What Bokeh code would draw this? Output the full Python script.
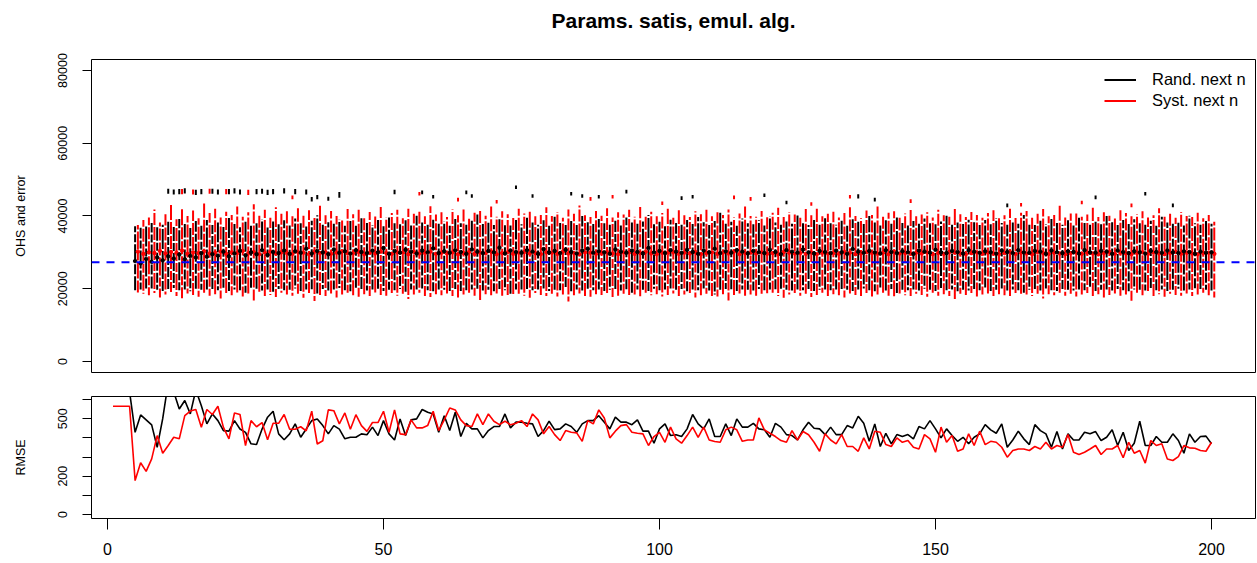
from bokeh.plotting import figure
from bokeh.layouts import column
from bokeh.models import (ColumnDataSource, Span, Legend, LegendItem, FixedTicker, Range1d,
                          Label)
from bokeh.embed import file_html
from bokeh.resources import INLINE

FONT = "Liberation Sans"

# ---------------- top panel data (values in thousands) ----------------
iter_n = list(range(5, 201))

rand_lo = [
    19.6, 19.8, 19.5, 20.1, 19.7, 19.4, 19.9, 20.2, 19.6, 19.8, 19.3, 20.0, 19.7, 19.5,
    19.9, 19.6, 20.3, 19.4, 19.8, 19.6, 18.9, 19.7, 20.0, 19.5, 19.8, 19.2, 19.9, 19.6,
    19.7, 20.1, 19.4, 19.8, 19.6, 18.7, 19.9, 19.5, 19.8, 20.2, 19.6, 19.3, 19.7, 19.9,
    19.5, 19.8, 20.0, 19.4, 19.7, 19.6, 19.9, 19.2, 19.8, 19.5, 20.1, 19.6, 19.3, 19.8,
    19.7, 19.4, 19.9, 18.8, 19.6, 19.8, 20.0, 19.5, 19.7, 19.3, 19.9, 19.6, 18.6, 19.8,
    19.5, 19.9, 19.6, 19.8, 20.1, 19.4, 19.7, 19.6, 19.9, 19.3, 19.8, 19.5, 20.0, 19.6,
    19.8, 19.4, 19.7, 19.9, 19.5, 19.6, 18.9, 19.8, 19.7, 19.4, 20.0, 19.6, 19.8, 19.5,
    19.7, 19.9, 19.3, 19.8, 19.6, 20.1, 19.5, 18.4, 19.7, 19.9, 19.6, 19.4, 19.8, 19.7,
    19.5, 19.9, 19.6, 19.8, 19.3, 20.0, 19.7, 19.5, 19.8, 19.6, 19.9, 19.4, 19.7, 19.8,
    19.6, 19.5, 19.9, 19.7, 19.4, 19.8, 20.1, 19.6, 19.3, 19.8, 19.5, 19.9, 18.8, 19.7,
    19.6, 19.8, 19.5, 20.0, 19.7, 19.4, 19.9, 19.6, 19.8, 19.3, 19.7, 19.5, 19.9, 19.6,
    19.8, 19.4, 19.7, 20.1, 19.5, 19.8, 19.6, 18.9, 19.7, 19.9, 19.5, 19.8, 19.6, 19.4,
    19.9, 19.7, 19.5, 19.8, 19.6, 20.0, 19.4, 19.7, 19.8, 19.5, 19.9, 19.6, 19.3, 19.8,
    19.7, 19.5, 19.9, 19.6, 19.8, 19.4, 19.7, 20.0, 19.5, 19.8, 19.6, 19.9, 19.7, 19.5,
]
rand_hi = [
    37.2, 36.8, 37.5, 38.1, 36.9, 37.6, 38.4, 37.0, 39.2, 37.8, 36.7, 38.6, 37.3, 38.9,
    37.5, 38.2, 37.0, 39.5, 37.8, 36.9, 38.4, 37.6, 38.0, 39.1, 37.2, 38.5, 37.7, 38.8,
    37.4, 39.3, 38.0, 37.1, 38.7, 40.2, 37.6, 38.3, 37.9, 39.0, 37.3, 38.6, 37.8, 39.4,
    38.1, 37.5, 38.9, 37.2, 39.6, 38.0, 37.7, 38.8, 37.4, 40.1, 38.2, 37.6, 39.0, 37.9,
    38.5, 37.3, 39.2, 38.0, 37.6, 38.7, 40.4, 37.8, 38.3, 37.5, 39.1, 38.0, 37.4, 38.9,
    37.7, 39.5, 38.2, 37.6, 38.8, 37.3, 39.8, 38.1, 37.9, 38.6, 37.5, 40.0, 38.3, 37.8,
    39.2, 38.0, 37.6, 38.7, 37.4, 39.6, 38.2, 37.9, 38.5, 40.3, 37.7, 38.4, 37.2, 39.0,
    38.1, 37.6, 38.9, 37.8, 39.7, 38.3, 37.5, 38.6, 41.0, 37.9, 38.4, 37.3, 39.3, 38.0,
    37.7, 38.8, 37.4, 39.9, 38.2, 37.6, 38.5, 37.9, 40.2, 38.1, 37.5, 38.9, 37.8, 39.4,
    38.0, 37.6, 38.7, 37.3, 39.1, 38.4, 37.8, 40.0, 38.2, 37.5, 38.8, 37.9, 39.6, 38.1,
    37.4, 38.6, 37.9, 39.3, 38.0, 37.7, 38.5, 40.1, 37.6, 38.2, 37.8, 39.0, 38.3, 37.5,
    38.9, 37.7, 39.4, 38.1, 37.6, 38.6, 37.9, 40.3, 38.0, 37.5, 38.7, 37.8, 39.2, 38.2,
    37.6, 38.8, 37.4, 39.5, 38.1, 37.9, 38.4, 37.7, 40.0, 38.3, 37.5, 38.9, 37.8, 39.1,
    38.0, 37.6, 38.7, 37.3, 39.8, 38.2, 37.9, 38.5, 37.4, 40.1, 38.0, 37.6, 38.6, 37.9,
]
rand_mid = [
    27.6, 27.0, 28.2, 27.4, 28.6, 27.8, 28.9, 28.3, 29.4, 28.1, 29.0, 28.6, 29.8, 28.8,
    29.5, 29.1, 30.2, 28.9, 29.7, 30.4, 29.2, 30.0, 29.5, 30.6, 29.3, 30.1, 29.8, 30.5,
    29.6, 30.3, 29.9, 31.0, 29.7, 30.4, 30.0, 29.5, 30.8, 29.9, 30.3, 29.7, 30.6, 30.1,
    29.8, 30.5, 30.0, 31.2, 29.6, 30.4, 29.9, 30.7, 30.2, 29.7, 30.5, 30.0, 31.1, 29.8,
    30.3, 29.9, 30.6, 30.1, 29.6, 30.8, 30.2, 29.8, 30.4, 30.0, 31.3, 29.7, 30.5, 30.1,
    29.9, 30.6, 30.2, 29.6, 30.9, 30.0, 30.4, 29.8, 30.7, 30.1, 29.7, 30.5, 31.0, 29.9,
    30.3, 30.0, 29.6, 30.8, 30.2, 29.9, 30.5, 30.1, 29.7, 31.2, 30.0, 30.4, 29.8, 30.6,
    30.2, 29.9, 30.7, 30.1, 29.6, 30.5, 30.0, 31.0, 29.8, 30.3, 29.9, 30.6, 30.2, 29.7,
    30.4, 30.0, 29.8, 30.7, 30.1, 29.5, 30.6, 30.2, 29.9, 30.8, 30.0, 29.7, 30.4, 30.1,
    29.8, 30.5, 30.0, 29.6, 30.9, 30.2, 29.9, 30.4, 30.0, 29.7, 30.6, 30.1, 29.8, 30.3,
    30.0, 29.6, 30.5, 30.2, 29.9, 30.7, 30.0, 29.8, 30.4, 30.1, 29.7, 30.6, 30.2, 29.9,
    30.3, 30.0, 29.7, 30.5, 30.1, 29.8, 30.6, 30.0, 29.9, 30.4, 30.2, 29.6, 30.5, 30.0,
    29.8, 30.3, 30.1, 29.7, 30.6, 30.0, 29.9, 30.4, 30.2, 29.6, 30.5, 30.1, 29.8, 30.3,
    30.0, 29.7, 30.4, 30.1, 29.9, 30.5, 30.0, 29.8, 30.3, 30.1, 29.6, 30.2, 29.9, 30.0,
]
syst_lo = [
    19.0, 18.6, 18.2, 18.8, 17.6, 18.4, 19.1, 18.0, 17.4, 18.7, 18.3, 17.8, 18.9, 18.1,
    18.5, 17.3, 18.8, 18.2, 19.0, 17.9, 18.4, 16.8, 18.6, 18.0, 18.3, 17.7, 18.9, 18.4,
    18.1, 18.6, 17.5, 18.8, 16.6, 18.3, 18.0, 18.7, 17.6, 18.4, 18.9, 18.2, 17.8, 18.5,
    18.0, 18.7, 18.3, 17.5, 18.8, 18.1, 18.6, 17.2, 18.4, 18.9, 18.0, 17.7, 18.5, 18.2,
    18.7, 18.0, 17.6, 18.4, 18.9, 18.1, 16.9, 18.5, 18.2, 18.7, 17.8, 18.3, 18.0, 18.6,
    18.1, 17.5, 18.8, 18.3, 18.0, 18.6, 17.9, 18.4, 16.5, 18.2, 18.7, 18.0, 17.8, 18.5,
    18.3, 18.8, 17.7, 18.1, 18.6, 18.0, 18.4, 17.4, 18.9, 18.2, 18.5, 17.9, 18.3, 18.7,
    18.0, 18.4, 18.8, 17.6, 18.2, 18.6, 18.0, 17.9, 18.5, 16.8, 18.3, 18.7, 18.1, 18.4,
    17.8, 18.6, 18.2, 18.9, 18.0, 17.5, 18.4, 18.8, 18.1, 18.6, 17.7, 18.3, 18.9, 18.0,
    18.5, 18.2, 17.6, 18.7, 18.3, 18.0, 18.8, 17.9, 18.4, 18.6, 18.1, 17.4, 18.7, 18.2,
    18.0, 18.6, 18.3, 17.8, 18.9, 18.1, 18.5, 18.0, 17.2, 18.6, 18.3, 18.8, 17.9, 18.4,
    18.7, 18.0, 18.5, 18.2, 17.7, 18.8, 18.1, 18.4, 18.0, 18.6, 17.3, 18.5, 18.2, 18.9,
    18.1, 18.6, 17.9, 18.4, 18.8, 18.0, 18.5, 17.6, 18.3, 18.7, 18.1, 18.4, 16.7, 18.6,
    18.2, 18.8, 18.0, 18.5, 17.8, 18.6, 18.3, 18.1, 18.7, 18.0, 18.4, 18.9, 18.2, 17.6,
]
syst_hi = [
    37.5, 38.9, 39.6, 41.8, 38.2, 40.5, 43.0, 39.1, 42.2, 40.0, 41.5, 39.4, 43.4, 40.8,
    42.0, 39.6, 41.2, 40.3, 42.6, 39.8, 41.0, 43.2, 40.1, 41.7, 39.5, 42.4, 40.6, 41.3,
    39.9, 42.1, 40.4, 41.6, 39.7, 42.8, 40.2, 41.4, 40.0, 39.3, 41.9, 40.5, 42.3, 39.8,
    41.1, 40.3, 42.5, 39.6, 40.8, 41.7, 39.4, 42.0, 40.6, 41.2, 39.9, 42.7, 40.4, 41.0,
    39.7, 41.8, 40.2, 42.2, 39.5, 40.9, 41.4, 40.1, 42.6, 39.8, 41.3, 40.5, 39.6, 42.0,
    40.7, 41.5, 39.9, 40.3, 42.4, 40.0, 41.1, 39.5, 41.8, 40.6, 42.9, 40.2, 39.7, 41.4,
    40.1, 42.1, 39.6, 41.0, 40.4, 41.7, 39.8, 42.5, 40.3, 41.2, 39.9, 40.8, 42.0, 39.5,
    41.6, 40.2, 39.7, 41.3, 40.5, 42.2, 39.9, 41.0, 40.3, 41.8, 39.6, 40.7, 42.6, 40.0,
    39.8, 41.4, 40.1, 40.9, 42.3, 39.7, 41.1, 40.4, 39.5, 41.9, 40.2, 42.0, 39.9, 40.6,
    41.2, 39.6, 40.8, 42.4, 40.0, 39.4, 41.5, 40.3, 42.7, 39.8, 40.9, 41.3, 39.5, 40.7,
    42.1, 39.9, 40.4, 41.0, 39.6, 41.7, 40.2, 39.8, 42.5, 40.5, 39.7, 41.1, 40.3, 39.5,
    40.8, 41.6, 39.8, 40.2, 42.0, 39.7, 40.9, 41.4, 39.5, 40.6, 41.9, 39.9, 40.3, 42.8,
    39.6, 40.7, 41.2, 39.8, 40.4, 42.3, 39.7, 41.0, 40.1, 39.5, 41.6, 40.8, 39.9, 40.5,
    41.3, 39.6, 40.2, 42.1, 39.8, 40.6, 39.5, 41.1, 40.0, 39.7, 40.9, 39.4, 40.3, 38.4,
]
syst_mid = [
    30.2, 29.6, 30.0, 29.8, 30.4, 29.7, 30.1, 29.9, 30.5, 29.6, 30.0, 29.8, 30.3, 29.7,
    29.9, 30.2, 29.6, 30.0, 29.8, 30.4, 29.7, 30.1, 29.5, 29.9, 30.2, 29.7, 30.0, 29.8,
    29.6, 30.1, 29.9, 29.5, 30.2, 29.8, 30.0, 29.6, 29.9, 30.3, 29.7, 29.8, 30.1, 29.5,
    29.9, 29.7, 30.2, 29.8, 29.6, 30.0, 29.9, 29.5, 30.1, 29.7, 29.8, 30.2, 29.6, 29.9,
    29.7, 30.0, 29.5, 29.8, 30.1, 29.6, 29.9, 29.7, 30.2, 29.5, 29.8, 30.0, 29.6, 29.9,
    30.1, 29.7, 29.8, 29.5, 30.0, 29.9, 29.6, 30.2, 29.7, 29.8, 29.5, 30.0, 29.9, 29.6,
    29.8, 30.1, 29.7, 29.5, 29.9, 30.0, 29.6, 29.8, 30.2, 29.7, 29.5, 29.9, 29.8, 30.0,
    29.6, 29.9, 29.7, 30.1, 29.5, 29.8, 30.0, 29.6, 29.9, 29.7, 30.2, 29.5, 29.8, 29.9,
    29.7, 30.0, 29.6, 29.8, 29.5, 30.1, 29.9, 29.7, 29.8, 29.6, 30.0, 29.5, 29.9, 29.7,
    29.8, 29.6, 30.1, 29.9, 29.5, 29.7, 30.0, 29.8, 29.6, 29.9, 29.5, 30.2, 29.7, 29.8,
    29.6, 29.9, 29.7, 30.0, 29.5, 29.8, 29.6, 30.1, 29.9, 29.7, 29.5, 29.8, 30.0, 29.6,
    29.9, 29.7, 29.5, 29.8, 30.1, 29.6, 29.9, 29.7, 29.5, 30.0, 29.8, 29.6, 29.9, 29.7,
    29.5, 29.8, 30.0, 29.6, 29.9, 29.7, 29.5, 29.8, 30.1, 29.6, 29.9, 29.7, 29.5, 29.8,
    30.0, 29.6, 29.9, 29.7, 29.5, 29.8, 30.1, 29.6, 29.9, 29.7, 29.5, 29.8, 29.9, 29.6,
]

# isolated high error bars
rand_out_n = [11, 12, 13, 14, 16, 17, 19, 20, 22, 23, 24, 27, 28, 29, 30, 32, 34, 36,
              37, 38, 40, 42,
              52, 57, 59, 65, 66, 74, 77, 84, 86, 89, 94, 104, 106, 119, 123, 136, 139,
              163, 179, 188, 193]
rand_out_lo = [46.1, 45.9, 46.0, 46.2, 45.8, 46.0, 46.1, 45.9, 46.0, 46.2, 45.9, 46.0,
               46.1, 45.8, 46.0, 46.2, 46.0, 45.9,
               44.0, 44.6, 44.2, 45.0,
               46.0, 46.0, 44.8, 46.0, 45.0, 47.4, 45.0, 45.6, 45.0, 44.8, 46.2, 44.4,
               44.8, 45.2, 43.2, 44.8, 44.0, 42.4, 44.6, 45.6, 42.4]
rand_out_hi = [47.5, 47.3, 47.4, 47.6, 47.2, 47.4, 47.5, 47.3, 47.4, 47.6, 47.3, 47.4,
               47.5, 47.2, 47.4, 47.6, 47.4, 47.3,
               45.2, 45.8, 45.3, 46.6,
               47.2, 47.0, 45.8, 47.0, 46.0, 48.4, 46.0, 46.6, 46.0, 45.8, 47.2, 45.4,
               45.8, 46.2, 44.2, 46.0, 45.0, 43.4, 45.6, 46.6, 43.4]
syst_out_n = [13, 15, 18, 21, 25,
              33, 56, 63, 70, 87, 91, 100, 113, 116, 127, 134, 145, 165, 176, 185]
syst_out_lo = [46.0, 45.9, 46.1, 46.0, 45.8,
               44.6, 45.6, 44.0, 43.4, 44.2, 44.8, 43.0, 44.6, 44.2, 42.8, 44.8, 43.6,
               42.6, 43.2, 42.4]
syst_out_hi = [47.4, 47.3, 47.5, 47.4, 47.2,
               45.6, 46.6, 45.0, 44.4, 45.2, 45.8, 44.0, 45.6, 45.2, 43.8, 45.8, 44.6,
               43.6, 44.2, 43.4]

true_ohs = 27300

# ---------------- bottom panel data ----------------
rmse_rand_n = list(range(4, 201))
rmse_rand = [
    640, 429, 520, 494, 468, 351, 500, 690, 640, 551, 595, 525, 650, 568, 473, 525,
    490, 438, 435, 490, 446, 429, 369, 365, 446, 508, 539, 421, 390, 421, 473, 403,
    446, 490, 499, 464, 421, 464, 446, 395, 403, 403, 421, 416, 456, 412,
    490, 421, 389, 499, 412, 494, 499, 548, 534, 525,
    429, 516, 438, 534, 407, 476, 447, 447, 400, 438,
    459, 459, 525, 452, 482, 482, 476, 473, 407, 438,
    487, 443, 447, 473, 459, 429, 473, 490, 490, 516,
    482, 447, 508, 482, 482, 469, 494, 435, 435, 372,
    447, 473, 412, 416, 407, 447, 522, 473, 447, 499,
    407, 407, 473, 412, 499, 456, 456, 476, 447, 442,
    403, 476, 456, 417, 412, 389, 442, 482, 450,
    447, 417, 456, 417, 417, 464, 452, 513, 476, 382,
    473, 355, 424, 369, 417, 407, 417, 395, 459, 447,
    490, 447, 400, 447, 412, 382, 403, 369, 403, 421,
    469, 442, 424, 473, 351, 389, 435, 395, 365, 469,
    438, 421, 351, 433, 342, 421, 389, 389, 429, 421,
    433, 386, 403, 442, 360, 429, 334, 372, 487, 360,
    360, 407, 377, 377, 421, 386, 320, 421, 377, 407,
    409, 369,
]
rmse_syst_n = list(range(1, 201))
rmse_syst = [
    565, 565, 565, 565, 177, 270, 225, 290, 412, 320, 360, 403, 395, 516,
    540, 548, 455, 548, 522, 565, 455, 395, 530, 522,
    360, 490, 458, 480, 390, 476, 476, 522, 445, 445,
    458, 437, 539, 368, 385, 546, 542, 473, 530, 445,
    521, 464, 434, 480, 480,
    539, 429, 546, 421, 417, 494, 452, 452, 464, 539,
    438, 494, 556, 546, 494, 464, 459, 525, 469, 525,
    487, 469, 487, 468, 476, 490, 459, 525, 494, 421,
    459, 417, 386, 438, 429, 426, 382, 490, 473, 546,
    504, 400, 435, 464, 469, 429, 424, 421, 360, 407,
    429, 377, 456, 395, 372, 412, 456, 403, 456, 389,
    381, 377, 442, 456, 442, 382, 389, 389, 504, 442,
    424, 407, 386, 377, 438, 389, 433, 416, 377,
    330, 421, 389, 369, 417, 355, 355, 330, 400, 342,
    435, 429, 365, 355, 400, 377, 386, 351, 342, 417,
    395, 325, 456, 377, 412, 330, 342, 421, 360, 435,
    365, 382, 377, 351, 299, 334, 342, 342, 334, 355,
    342, 377, 342, 360, 351, 417, 325, 313, 325, 342,
    360, 313, 342, 342, 360, 296, 377, 320, 334, 268,
    386, 360, 369, 290, 282, 302, 360, 348, 346, 334,
    330, 377,
]

for arr in (rand_lo, rand_hi, rand_mid, syst_lo, syst_hi, syst_mid):
    assert len(arr) == len(iter_n), len(arr)
assert len(rand_out_n) == len(rand_out_lo) == len(rand_out_hi)
assert len(syst_out_n) == len(syst_out_lo) == len(syst_out_hi)
assert len(rmse_rand) == len(rmse_rand_n), len(rmse_rand)
assert len(rmse_syst) == len(rmse_syst_n), len(rmse_syst)

K = 1000.0
rand_src = ColumnDataSource(dict(
    x=iter_n, lo=[v * K for v in rand_lo], hi=[v * K for v in rand_hi],
    mid=[v * K for v in rand_mid],
    doff=[(i * 7) % 19 for i in range(len(iter_n))]))
syst_src = ColumnDataSource(dict(
    x=[n + 0.5 for n in iter_n], lo=[v * K for v in syst_lo],
    hi=[v * K for v in syst_hi], mid=[v * K for v in syst_mid],
    doff=[(i * 11) % 23 for i in range(len(iter_n))]))
rand_out_src = ColumnDataSource(dict(
    x=rand_out_n, lo=[v * K for v in rand_out_lo], hi=[v * K for v in rand_out_hi]))
syst_out_src = ColumnDataSource(dict(
    x=[n + 0.5 for n in syst_out_n], lo=[v * K for v in syst_out_lo],
    hi=[v * K for v in syst_out_hi]))

W = 1257
BORDER_L, BORDER_R = 91, 2
x_range = Range1d(-2.9, 207.97)


def style(p):
    p.outline_line_color = "black"
    p.outline_line_width = 1
    p.outline_line_alpha = 1
    p.xgrid.visible = False
    p.ygrid.visible = False
    p.background_fill_color = "white"
    p.border_fill_color = "white"
    ya = p.yaxis[0]
    ya.axis_line_color = None
    ya.major_tick_out = 9
    ya.major_tick_in = 0
    ya.major_tick_line_color = "black"
    ya.minor_tick_line_color = None
    ya.major_label_orientation = "vertical"
    ya.major_label_text_font = FONT
    ya.major_label_text_font_size = "12.5px"
    ya.major_label_text_color = "black"
    ya.major_label_standoff = 15
    ya.axis_label_text_font = FONT
    ya.axis_label_text_font_size = "12.5px"
    ya.axis_label_text_font_style = "normal"
    ya.axis_label_text_color = "black"
    ya.axis_label_standoff = 28


# ---- title strip (a frame-only figure holding the title text) ----
TITLE_H = 40
head = figure(width=W, height=TITLE_H, x_range=x_range, y_range=Range1d(0, 1),
              output_backend="svg", toolbar_location=None,
              x_axis_location=None, y_axis_location=None,
              min_border_left=BORDER_L, min_border_right=BORDER_R,
              min_border_top=0, min_border_bottom=0)
head.outline_line_color = None
head.xgrid.visible = False
head.ygrid.visible = False
head.background_fill_color = "white"
head.border_fill_color = "white"
head.add_layout(Label(x=(W - BORDER_L - BORDER_R) / 2, y=TITLE_H - 20,
                      x_units="screen", y_units="screen",
                      text="Params. satis, emul. alg.", text_align="center",
                      text_baseline="middle", text_font=FONT, text_font_size="21px",
                      text_font_style="bold", text_color="black"))

# ---- upper panel ----
TOP_H, TOP_BT, TOP_BB = 384 - TITLE_H, 59 - TITLE_H, 12
top = figure(width=W, height=TOP_H, x_range=x_range, y_range=Range1d(-3024, 83020),
             output_backend="svg", toolbar_location=None, x_axis_location=None,
             min_border_left=BORDER_L, min_border_right=BORDER_R, min_border_top=TOP_BT,
             min_border_bottom=TOP_BB)
style(top)
top.yaxis[0].axis_label = "OHS and error"
top.yaxis[0].ticker = FixedTicker(ticks=[0, 20000, 40000, 60000, 80000])

top.segment(x0="x", y0="lo", x1="x", y1="hi", source=syst_src, line_color="red",
            line_width=2, line_dash="12 2 16 2 9 2 18 2 13 2", line_dash_offset="doff")
top.segment(x0="x", y0="lo", x1="x", y1="hi", source=rand_src, line_color="black",
            line_width=2, line_dash="14 2 10 2 18 2 8 2 20 2", line_dash_offset="doff")
r_out_syst = top.segment(x0="x", y0="lo", x1="x", y1="hi", source=syst_out_src,
                         line_color="red", line_width=2)
r_out_rand = top.segment(x0="x", y0="lo", x1="x", y1="hi", source=rand_out_src,
                         line_color="black", line_width=2)
top.scatter(x="x", y="mid", source=syst_src, size=3.5, color="red")
top.scatter(x="x", y="mid", source=rand_src, size=3.5, color="black")

top.add_layout(Span(location=true_ohs, dimension="width", line_color="#0000ff",
                    line_width=2, line_dash="8 7"))

legend = Legend(items=[LegendItem(label="Rand. next n", renderers=[r_out_rand]),
                       LegendItem(label="Syst. next n", renderers=[r_out_syst])],
                location=(1013, 261), orientation="vertical",
                border_line_color=None, background_fill_alpha=0,
                padding=0, margin=0, spacing=0,
                glyph_width=32, glyph_height=21, label_height=21,
                label_standoff=16, label_text_font=FONT,
                label_text_font_size="16.5px", label_text_color="black")
top.add_layout(legend)

# ---- lower panel ----
bot = figure(width=W, height=179, x_range=x_range, y_range=Range1d(-21, 616),
             output_backend="svg", toolbar_location=None,
             min_border_left=BORDER_L, min_border_right=BORDER_R, min_border_top=12,
             min_border_bottom=45)
style(bot)
bot.yaxis[0].axis_label = "RMSE"
bot.yaxis[0].ticker = FixedTicker(ticks=[0, 100, 200, 300, 400, 500, 600])
bot.yaxis[0].major_label_overrides = {100: "", 300: "", 400: "", 600: ""}
xa = bot.xaxis[0]
xa.ticker = FixedTicker(ticks=[0, 50, 100, 150, 200])
xa.axis_line_color = None
xa.major_tick_out = 11
xa.major_tick_in = 0
xa.major_tick_line_color = "black"
xa.minor_tick_line_color = None
xa.major_label_text_font = FONT
xa.major_label_text_font_size = "16px"
xa.major_label_text_color = "black"
xa.major_label_standoff = 13

bot.line(rmse_rand_n, rmse_rand, line_color="black", line_width=1.6)
bot.line(rmse_syst_n, rmse_syst, line_color="red", line_width=1.6)

layout = column(head, top, bot, spacing=0)
open("out.html", "w").write(file_html(layout, INLINE))
